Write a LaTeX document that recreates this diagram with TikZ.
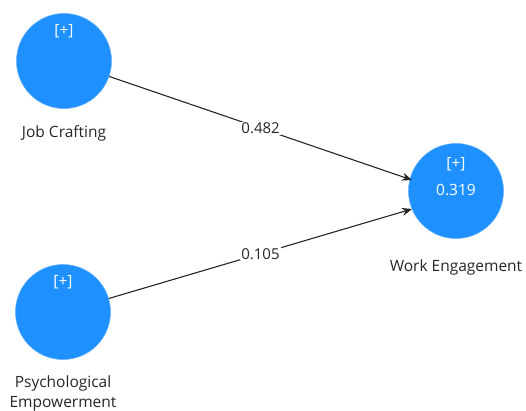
\documentclass[tikz,border=0pt]{standalone}
\usepackage{fontspec}
\setmainfont{Open Sans}
\usetikzlibrary{arrows.meta}
\definecolor{lvblue}{RGB}{30,144,255}
\begin{document}
\begin{tikzpicture}[x=1pt,y=-1pt,
  lv/.style={circle,fill=lvblue,draw=lvblue!70!white,line width=0.6pt,minimum size=95pt,inner sep=0pt},
  inner/.style={text=white,font=\fontsize{15.5}{18}\selectfont},
  lbl/.style={font=\fontsize{15.5}{20}\selectfont,text=black!85},
  path/.style={draw=black!85,line width=1.1pt,-{Stealth[length=10pt,width=8pt]}},
  coef/.style={fill=white,inner sep=1pt,font=\fontsize{15}{17}\selectfont,text=black!85}]
\useasboundingbox (0,0) rectangle (526,410);
\node[lv] (jc) at (64,61) {};
\node[lv] (pe) at (63,312) {};
\node[lv] (we) at (456,191) {};
\node[inner] (jcp) at (64,31) {[+]};
\node[inner] (pep) at (63,282) {[+]};
\node[inner] (wep) at (456,164) {[+]};
\node[inner] (wer) at (456,190) {0.319};
\node[lbl] (jcl) at (64,133) {Job Crafting};
\node[lbl] (wel) at (456,267) {Work Engagement};
\node[lbl,align=center] (pel) at (63,393) {Psychological\\Empowerment};
\coordinate (t1) at (412,180);
\coordinate (t2) at (412,209);
\draw[path] (jc) -- node[coef] (c1) {0.482} (t1);
\draw[path] (pe) -- node[coef] (c2) {0.105} (t2);
\end{tikzpicture}
\end{document}
